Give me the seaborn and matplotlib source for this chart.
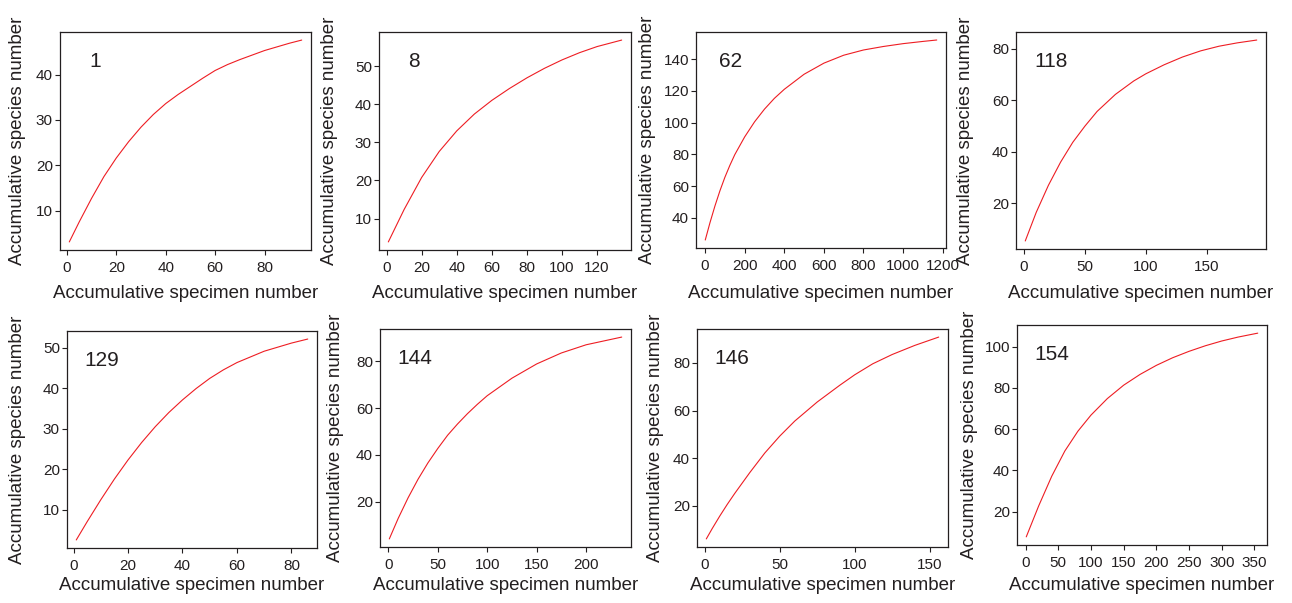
#!/usr/bin/env python3
import pandas as pd
import seaborn as sns
from matplotlib import pyplot as plt
from matplotlib.ticker import MultipleLocator

# species accumulation curves
site_names = ["1", "8", "62", "118", "129", "144", "146", "154"]

x_1 = [1, 5, 10, 15, 20, 25, 30, 35, 40, 45, 50, 55, 60, 65, 70, 80, 90, 95]
y_1 = [3.1, 7.5, 12.7, 17.5, 21.6, 25.2, 28.4, 31.2, 33.6, 35.6, 37.4, 39.2, 40.9, 42.2, 43.3, 45.3, 46.9, 47.6]

x_8 = [1, 10, 20, 30, 40, 50, 60, 70, 80, 90, 100, 110, 120, 134]
y_8 = [3.9, 12.4, 20.8, 27.6, 33, 37.4, 41, 44.1, 46.9, 49.4, 51.6, 53.5, 55.1, 56.8]

x_62 = [1, 25, 50, 75, 100, 125, 150, 200, 250, 300, 350, 400, 500, 600, 700, 800, 900, 1000, 1100, 1170]
y_62 = [26, 37, 47.5, 57, 65.5, 73, 79.8, 91, 100.5, 108.5, 115.3, 121, 130.5, 137.5, 142.5,
        145.8, 148, 149.8, 151.2, 152.1]

x_118 = [1, 10, 20, 30, 40, 50, 60, 75, 90, 100, 115, 130, 145, 160, 175, 191]
y_118 = [5.4, 16.5, 27, 36, 43.7, 50, 55.7, 62.3, 67.5, 70.3, 73.8, 76.8, 79.2, 81, 82.3, 83.4]

x_129 = [1, 5, 10, 15, 20, 25, 30, 35, 40, 45, 50, 55, 60, 70, 80, 86]
y_129 = [2.6, 7.1, 12.5, 17.6, 22.3, 26.6, 30.5, 34, 37.1, 39.9, 42.4, 44.5, 46.3, 49.1, 51.1, 52.1]

x_144 = [1, 10, 20, 30, 40, 50, 60, 70, 80, 90, 100, 125, 150, 175, 200, 236]
y_144 = [4, 12.8, 21.6, 29.5, 36.5, 42.7, 48.4, 53.2, 57.6, 61.6, 65.3, 72.8, 78.9, 83.6, 87.1, 90.4]

x_146 = [1, 5, 10, 15, 20, 30, 40, 50, 60, 75, 90, 100, 112, 125, 140, 156]
y_146 = [6.2, 10.6, 15.8, 20.7, 25.3, 34, 42.2, 49.3, 55.6, 63.6, 70.6, 75, 79.6, 83.5, 87.3, 90.8]

x_154 = [1, 20, 40, 60, 80, 100, 125, 150, 175, 200, 225, 250, 275, 300, 325, 355]
y_154 = [7.8, 22.8, 37.2, 49.4, 59, 66.8, 74.8, 81.3, 86.5, 90.9, 94.6, 97.7, 100.4, 102.7, 104.6, 106.5]

xs = [x_1, x_8, x_62, x_118, x_129, x_144, x_146, x_154]
ys = [y_1, y_8, y_62, y_118, y_129, y_144, y_146, y_154]

# layout in pixels: left, right, top, bottom of each box
W, H = 1292, 603
boxes = [
    (60, 311, 32, 250), (379, 631, 32, 250), (696, 946, 32, 248), (1016, 1266, 32, 249),
    (67, 317, 331, 548), (380, 631, 329, 547), (697, 948, 329, 547), (1017, 1267, 325, 545),
]
ylab_px = [18, 330, 648, 966, 18, 335, 655, 970]
xlab_py = [293, 293, 293, 293, 585, 585, 585, 585]
x_steps = [20, 20, 200, 50, 20, 50, 50, 50]
y_steps = [10, 10, 20, 20, 10, 20, 20, 20]

TEXT = "#231f20"

sns.set_style("ticks")
plt.rcParams["font.family"] = ["Liberation Sans", "DejaVu Sans"]
plt.rcParams.update({
    "axes.xmargin": 0.04,
    "axes.ymargin": 0.04,
    "axes.edgecolor": TEXT,
    "axes.linewidth": 0.9,
    "xtick.color": TEXT,
    "ytick.color": TEXT,
    "xtick.labelcolor": TEXT,
    "ytick.labelcolor": TEXT,
    "xtick.major.size": 3.6,
    "ytick.major.size": 3.6,
    "xtick.major.width": 0.8,
    "ytick.major.width": 0.8,
    "xtick.major.pad": 4.5,
    "ytick.major.pad": 1.5,
    "xtick.labelsize": 11,
    "ytick.labelsize": 11,
    "axes.labelsize": 13.5,
    "axes.labelcolor": TEXT,
})

fig = plt.figure(figsize=(W / 100, H / 100), dpi=100)

for i, name in enumerate(site_names):
    l, r, t, b = boxes[i]
    ax = fig.add_axes([l / W, 1 - b / H, (r - l) / W, (b - t) / H])
    df = pd.DataFrame({"specimens": xs[i], "species": ys[i]})
    sns.lineplot(data=df, x="specimens", y="species", ax=ax, color="#ee1d23", linewidth=0.8)
    ax.xaxis.set_major_locator(MultipleLocator(x_steps[i]))
    ax.yaxis.set_major_locator(MultipleLocator(y_steps[i]))
    ax.set_xlabel("Accumulative specimen number")
    ax.set_ylabel("Accumulative species number")
    ax.xaxis.label.set_verticalalignment("center")
    ax.yaxis.label.set_verticalalignment("center")
    ax.yaxis.set_label_coords((ylab_px[i] - l) / (r - l), 0.5)
    ax.xaxis.set_label_coords(0.5, (b - xlab_py[i]) / (b - t))
    ax.text(0.14, 0.865, name, transform=ax.transAxes, ha="center", va="center",
            fontsize=15, color=TEXT)

fig.savefig("out.png", dpi=100)
